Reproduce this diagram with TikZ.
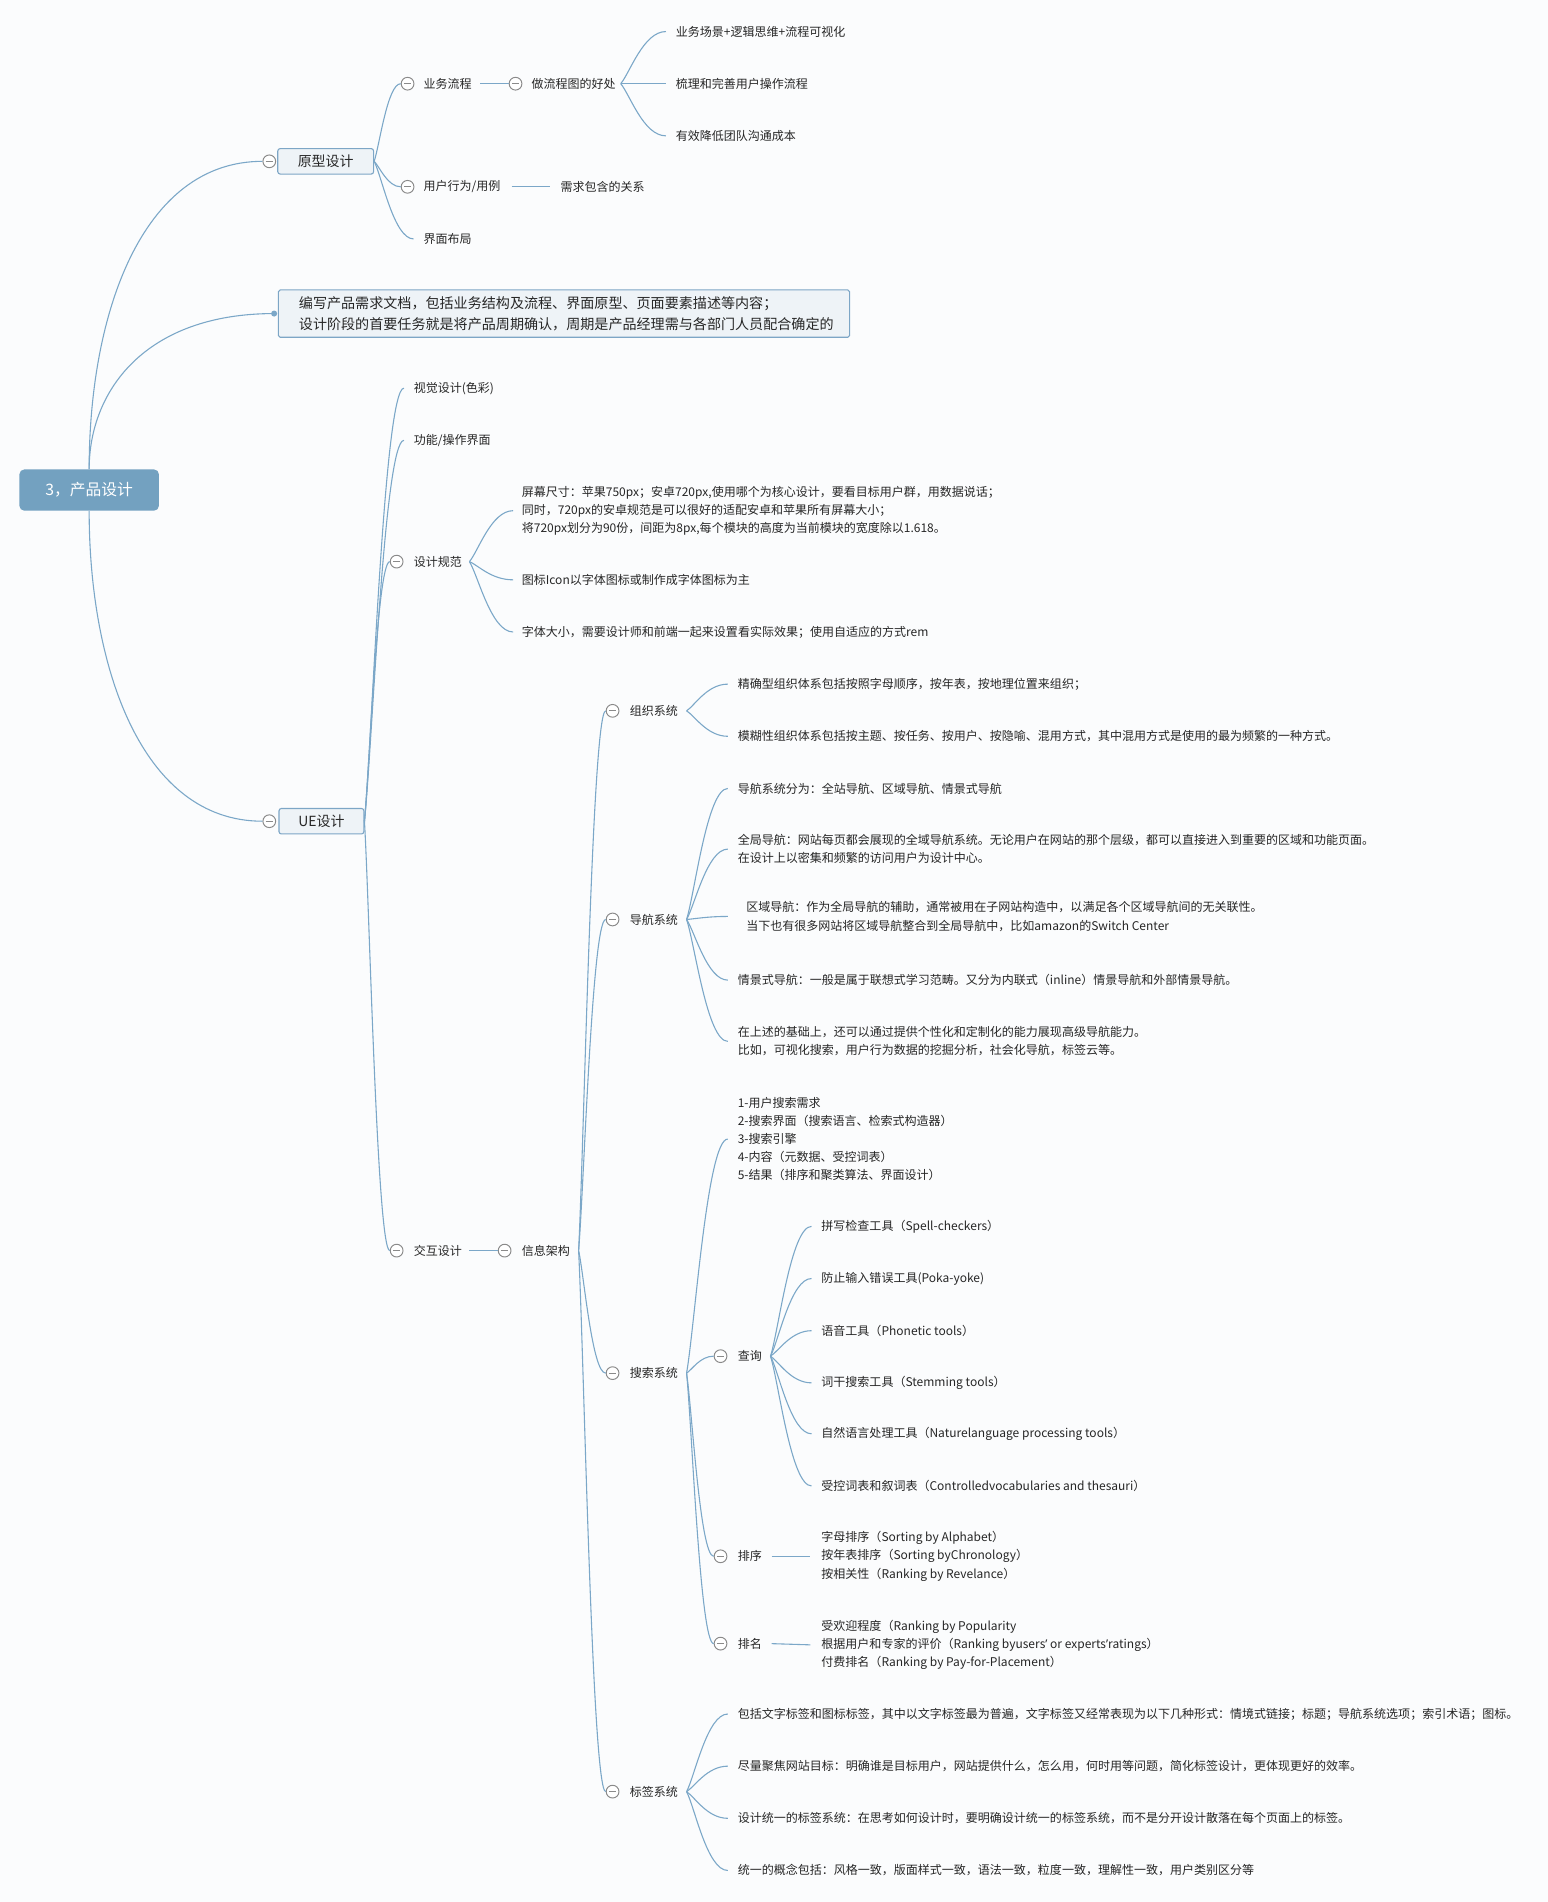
\documentclass[tikz,border=0pt]{standalone}
\usepackage{fontspec}
\setmainfont{Noto Sans CJK SC}
\newfontfamily\latinf{Noto Sans}
\usetikzlibrary{calc}
\definecolor{bgc}{HTML}{FBFCFD}
\definecolor{linkc}{HTML}{7BA7C8}
\definecolor{rootc}{HTML}{73A1C0}
\definecolor{boxfill}{HTML}{EEF3F7}
\definecolor{boxdraw}{HTML}{7DA6C6}
\definecolor{togc}{HTML}{8A8A8A}
\definecolor{txtc}{HTML}{262626}
\newcommand\mmlink[2]{\draw[link] let \p1=#1, \p2=#2 in (\p1) .. controls ({\x1+0.2*(\x2-\x1)},{\y1+0.2*(\y2-\y1)}) and ({\x2-0.5*(\x2-\x1)},{\y2}) .. (\p2);}
\newcommand\rootlink[2]{\draw[link] let \p1=#1, \p2=#2 in (\p1) .. controls (\x1,{\y1+0.5*(\y2-\y1)}) and ({\x1+0.3*(\x2-\x1)},\y2) .. (\p2);}
\newcommand\mmquote{{\latinf ’}}
\begin{document}
\begin{tikzpicture}[x=1pt,y=-1pt,
  link/.style={draw=linkc,line width=0.9pt},
  leaf/.style={anchor=west,inner sep=0pt,text=txtc,font=\fontsize{9.9}{15}\selectfont,align=left},
  tog/.style={circle,draw=togc,fill=white,line width=0.8pt,minimum size=10.5pt,inner sep=0pt,
    path picture={\draw[togc,line width=0.8pt] ([xshift=2.2pt]path picture bounding box.west) -- ([xshift=-2.2pt]path picture bounding box.east);}},
  box/.style={draw=boxdraw,fill=boxfill,rounded corners=2pt,line width=0.9pt,text=txtc,font=\fontsize{11.5}{14}\selectfont,minimum height=21pt,inner sep=0pt},
  rootn/.style={fill=rootc,rounded corners=4pt,text=white,font=\fontsize{13}{16}\selectfont,minimum width=115pt,minimum height=34pt,inner sep=0pt},
  infobox/.style={draw=boxdraw,fill=boxfill,rounded corners=1.5pt,line width=0.9pt,text=txtc,font=\fontsize{11.6}{17}\selectfont,align=left,inner xsep=17pt,inner ysep=0pt,text width=437pt,minimum height=39pt,anchor=west},
  dotn/.style={circle,fill=linkc,minimum size=5pt,inner sep=0pt}]
\fill[bgc] (0,0) rectangle (1276,1568);
\useasboundingbox (0,0) rectangle (1276,1568);

% root
\node[rootn] (root) at (73.5,404) {3，产品设计};

% 原型设计
\node[box,minimum width=79pt] (yx) at (268.5,133) {原型设计};
\node[tog] (tyx) at (222,133) {};
\node[leaf] (ywlc) at (349,69) {业务流程};
\node[tog] (tywlc) at (336,69) {};
\node[leaf] (lct) at (438,69) {做流程图的好处};
\node[tog] (tlct) at (425,69) {};
\node[leaf] (lct1) at (557,26) {业务场景+逻辑思维+流程可视化};
\node[leaf] (lct2) at (557,69) {梳理和完善用户操作流程};
\node[leaf] (lct3) at (557,112) {有效降低团队沟通成本};
\node[leaf] (yhxw) at (349,154) {用户行为/用例};
\node[tog] (tyhxw) at (336,154) {};
\node[leaf] (xqbh) at (462,154) {需求包含的关系};
\node[leaf] (jmbj) at (349,197) {界面布局};

% info
\node[infobox] (info) at (229,258.5) {编写产品需求文档，包括业务结构及流程、界面原型、页面要素描述等内容；\\设计阶段的首要任务就是将产品周期确认，周期是产品经理需与各部门人员配合确定的};
\node[dotn] (infodot) at (226,258.5) {};

% UE设计
\node[box,minimum width=70pt] (ue) at (265,677) {UE设计};
\node[tog] (tue) at (222,677) {};
\node[leaf] (sj) at (341,320) {视觉设计(色彩)};
\node[leaf] (gn) at (341,363) {功能/操作界面};
\node[leaf] (sjgf) at (341,463) {设计规范};
\node[tog] (tsjgf) at (327,463) {};
\node[leaf] (gf1) at (430,421) {屏幕尺寸：苹果750px；安卓720px,使用哪个为核心设计，要看目标用户群，用数据说话；\\同时，720px的安卓规范是可以很好的适配安卓和苹果所有屏幕大小；\\将720px划分为90份，间距为8px,每个模块的高度为当前模块的宽度除以1.618。};
\node[leaf] (gf2) at (430,478) {图标Icon以字体图标或制作成字体图标为主};
\node[leaf] (gf3) at (430,521) {字体大小，需要设计师和前端一起来设置看实际效果；使用自适应的方式rem};
\node[leaf] (jh) at (341,1031) {交互设计};
\node[tog] (tjh) at (327,1031) {};
\node[leaf] (xxjg) at (430,1031) {信息架构};
\node[tog] (txxjg) at (416,1031) {};

\node[leaf] (zz) at (519,586) {组织系统};
\node[tog] (tzz) at (505,586) {};
\node[leaf] (dh) at (519,758) {导航系统};
\node[tog] (tdh) at (505,758) {};
\node[leaf] (ss) at (519,1132) {搜索系统};
\node[tog] (tss) at (505,1132) {};
\node[leaf] (bq) at (519,1477) {标签系统};
\node[tog] (tbq) at (505,1477) {};

\node[leaf] (zz1) at (608,564) {精确型组织体系包括按照字母顺序，按年表，按地理位置来组织；};
\node[leaf] (zz2) at (608,607) {模糊性组织体系包括按主题、按任务、按用户、按隐喻、混用方式，其中混用方式是使用的最为频繁的一种方式。};

\node[leaf] (dh1) at (608,650) {导航系统分为：全站导航、区域导航、情景式导航};
\node[leaf] (dh2) at (608,700) {全局导航：网站每页都会展现的全域导航系统。无论用户在网站的那个层级，都可以直接进入到重要的区域和功能页面。\\在设计上以密集和频繁的访问用户为设计中心。};
\node[leaf] (dh3) at (615,755.5) {区域导航：作为全局导航的辅助，通常被用在子网站构造中，以满足各个区域导航间的无关联性。\\当下也有很多网站将区域导航整合到全局导航中，比如amazon的Switch Center};
\node[leaf] (dh4) at (608,808) {情景式导航：一般是属于联想式学习范畴。又分为内联式（inline）情景导航和外部情景导航。};
\node[leaf] (dh5) at (608,858.5) {在上述的基础上，还可以通过提供个性化和定制化的能力展现高级导航能力。\\比如，可视化搜索，用户行为数据的挖掘分析，社会化导航，标签云等。};

\node[leaf] (ss1) at (608,939) {1-用户搜索需求\\2-搜索界面（搜索语言、检索式构造器）\\3-搜索引擎\\4-内容（元数据、受控词表）\\5-结果（排序和聚类算法、界面设计）};
\node[leaf] (cx) at (608,1118) {查询};
\node[tog] (tcx) at (594,1118) {};
\node[leaf] (px) at (608,1283) {排序};
\node[tog] (tpx) at (594,1283) {};
\node[leaf] (pm) at (608,1355) {排名};
\node[tog] (tpm) at (594,1355) {};

\node[leaf] (cx1) at (677,1011) {拼写检查工具（Spell-checkers）};
\node[leaf] (cx2) at (677,1054) {防止输入错误工具(Poka-yoke)};
\node[leaf] (cx3) at (677,1097) {语音工具（Phonetic tools）};
\node[leaf] (cx4) at (677,1140) {词干搜索工具（Stemming tools）};
\node[leaf] (cx5) at (677,1182) {自然语言处理工具（Naturelanguage processing tools）};
\node[leaf] (cx6) at (677,1225) {受控词表和叙词表（Controlledvocabularies and thesauri）};

\node[leaf] (pxl) at (677,1283) {字母排序（Sorting by Alphabet）\\按年表排序（Sorting byChronology）\\按相关性（Ranking by Revelance）};
\node[leaf] (pml) at (677,1356) {受欢迎程度（Ranking by Popularity\\根据用户和专家的评价（Ranking byusers\mmquote{} or experts\mmquote{}ratings）\\付费排名（Ranking by Pay-for-Placement）};

\node[leaf] (bq1) at (608,1413) {包括文字标签和图标标签，其中以文字标签最为普遍，文字标签又经常表现为以下几种形式：情境式链接；标题；导航系统选项；索引术语；图标。};
\node[leaf] (bq2) at (608,1456) {尽量聚焦网站目标：明确谁是目标用户，网站提供什么，怎么用，何时用等问题，简化标签设计，更体现更好的效率。};
\node[leaf] (bq3) at (608,1499) {设计统一的标签系统：在思考如何设计时，要明确设计统一的标签系统，而不是分开设计散落在每个页面上的标签。};
\node[leaf] (bq4) at (608,1542) {统一的概念包括：风格一致，版面样式一致，语法一致，粒度一致，理解性一致，用户类别区分等};

% links
\rootlink{(root.north)}{(tyx.west)}
\rootlink{(root.north)}{(infodot.center)}
\rootlink{(root.south)}{(tue.west)}

\mmlink{(yx.east)}{(tywlc.west)}
\mmlink{(yx.east)}{(tyhxw.west)}
\mmlink{(yx.east)}{([xshift=-8pt]jmbj.west)}
\draw[link] ([xshift=7pt]ywlc.east) -- (tlct.west);
\mmlink{([xshift=4pt]lct.east)}{([xshift=-8pt]lct1.west)}
\mmlink{([xshift=4pt]lct.east)}{([xshift=-8pt]lct2.west)}
\mmlink{([xshift=4pt]lct.east)}{([xshift=-8pt]lct3.west)}
\draw[link] ([xshift=9pt]yhxw.east) -- ([xshift=-9pt]xqbh.west);

\mmlink{(ue.east)}{([xshift=-8pt]sj.west)}
\mmlink{(ue.east)}{([xshift=-8pt]gn.west)}
\mmlink{(ue.east)}{(tsjgf.west)}
\mmlink{(ue.east)}{(tjh.west)}
\mmlink{([xshift=6pt]sjgf.east)}{([xshift=-7pt]gf1.west)}
\mmlink{([xshift=6pt]sjgf.east)}{([xshift=-7pt]gf2.west)}
\mmlink{([xshift=6pt]sjgf.east)}{([xshift=-7pt]gf3.west)}
\draw[link] ([xshift=6pt]jh.east) -- (txxjg.west);

\mmlink{([xshift=7pt]xxjg.east)}{(tzz.west)}
\mmlink{([xshift=7pt]xxjg.east)}{(tdh.west)}
\mmlink{([xshift=7pt]xxjg.east)}{(tss.west)}
\mmlink{([xshift=7pt]xxjg.east)}{(tbq.west)}

\mmlink{([xshift=7pt]zz.east)}{([xshift=-8pt]zz1.west)}
\mmlink{([xshift=7pt]zz.east)}{([xshift=-8pt]zz2.west)}

\mmlink{([xshift=7pt]dh.east)}{([xshift=-8pt]dh1.west)}
\mmlink{([xshift=7pt]dh.east)}{([xshift=-8pt]dh2.west)}
\mmlink{([xshift=7pt]dh.east)}{([xshift=-15pt]dh3.west)}
\mmlink{([xshift=7pt]dh.east)}{([xshift=-8pt]dh4.west)}
\mmlink{([xshift=7pt]dh.east)}{([xshift=-8pt]dh5.west)}

\mmlink{([xshift=7pt]ss.east)}{([xshift=-8pt]ss1.west)}
\mmlink{([xshift=7pt]ss.east)}{(tcx.west)}
\mmlink{([xshift=7pt]ss.east)}{(tpx.west)}
\mmlink{([xshift=7pt]ss.east)}{(tpm.west)}

\mmlink{([xshift=7pt]cx.east)}{([xshift=-8pt]cx1.west)}
\mmlink{([xshift=7pt]cx.east)}{([xshift=-8pt]cx2.west)}
\mmlink{([xshift=7pt]cx.east)}{([xshift=-8pt]cx3.west)}
\mmlink{([xshift=7pt]cx.east)}{([xshift=-8pt]cx4.west)}
\mmlink{([xshift=7pt]cx.east)}{([xshift=-8pt]cx5.west)}
\mmlink{([xshift=7pt]cx.east)}{([xshift=-8pt]cx6.west)}
\draw[link] ([xshift=8pt]px.east) -- ([xshift=-9pt]pxl.west);
\draw[link] ([xshift=8pt]pm.east) -- ([xshift=-9pt]pml.west);

\mmlink{([xshift=7pt]bq.east)}{([xshift=-8pt]bq1.west)}
\mmlink{([xshift=7pt]bq.east)}{([xshift=-8pt]bq2.west)}
\mmlink{([xshift=7pt]bq.east)}{([xshift=-8pt]bq3.west)}
\mmlink{([xshift=7pt]bq.east)}{([xshift=-8pt]bq4.west)}
\end{tikzpicture}
\end{document}
